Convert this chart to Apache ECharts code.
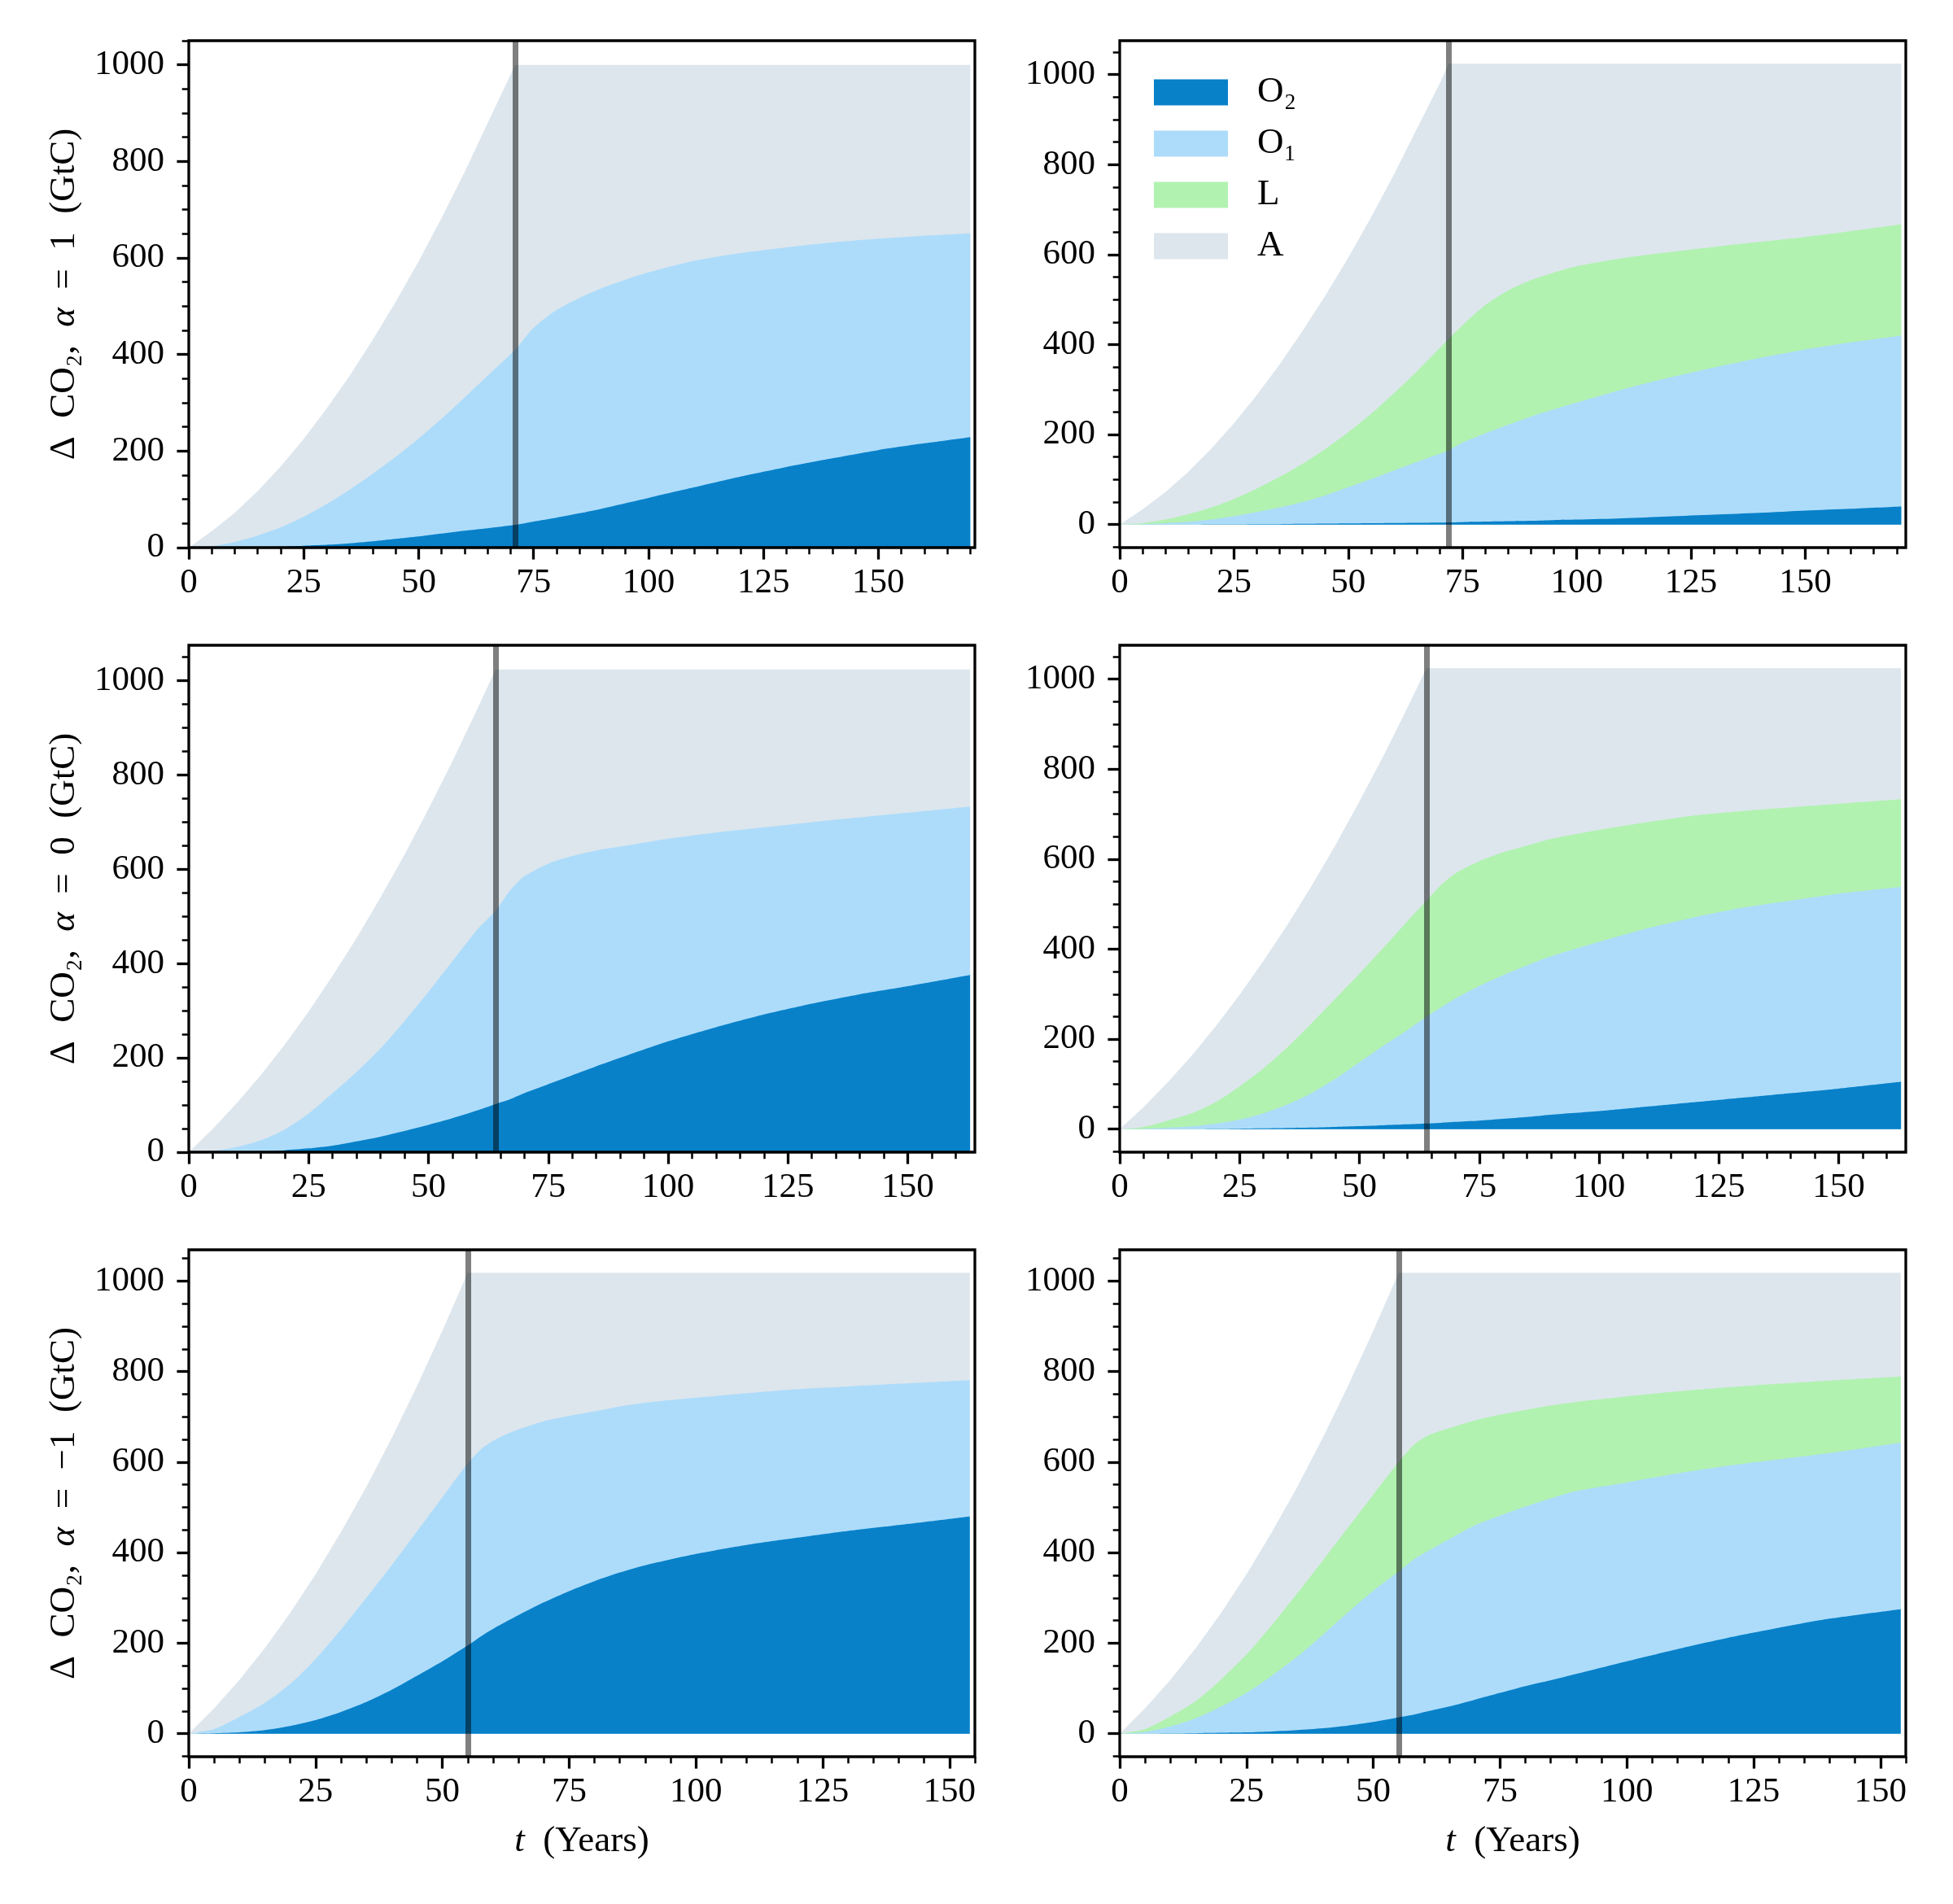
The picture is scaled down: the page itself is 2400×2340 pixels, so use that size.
<!DOCTYPE html>
<html>
<head>
<meta charset="utf-8">
<script src="https://cdn.jsdelivr.net/npm/echarts@6/dist/echarts.min.js"></script>
<style>
  html, body { margin: 0; padding: 0; background: #fff; }
  #chart { width: 2400px; height: 2340px; }
</style>
</head>
<body>
<div id="chart"></div>
<script>
// panels: top-left, top-right, middle-left, middle-right, bottom-left, bottom-right
// every series is the upper edge of its band (cumulative GtC)

// top-left, alpha = 1
var tTL  = [0,5,10,15,20,25,30,35,40,45,50,55,60,65,71,75,80,85,90,95,100,110,120,130,140,150,160,170];
var aTL  = [0,34,72,117,168,225,288,356,430,509,593,683,778,879,1000,1000,1000,1000,1000,1000,1000,1000,1000,1000,1000,1000,1000,1000];
var o1TL = [0,3,12,25,42,64,90,120,153,188,226,267,311,356,410,455,492,517,538,555,570,594,610,622,632,640,646,651];
var o2TL = [0,0,0.5,1,2,4,6,9,13,18,23,29,35,40,47,54,62,71,81,92,103,125,147,167,185,202,216,229];

// top-right
var tTR  = [0,5,10,15,20,25,30,35,40,45,50,55,60,65,70,72,75,80,85,90,95,100,110,120,130,140,150,160,171];
var aTR  = [0,34,72,117,168,225,288,356,430,509,593,683,778,879,980,1024,1024,1024,1024,1024,1024,1024,1024,1024,1024,1024,1024,1024,1024];
var lTR  = [0,3,11,23,38,57,80,106,135,168,205,246,292,340,392,413,443,488,520,543,560,574,592,605,617,628,639,652,667];
var o1TR = [0,1,3,6,11,19,28,38,50,65,83,101,120,139,157,165,182,203,222,240,256,271,300,326,349,370,389,405,420];
var o2TR = [0,0,0,0,0.5,0.5,1,1,1.5,2,2.5,3,3.5,4,4.5,5,5.5,6.5,7.5,8.5,10,11,14,18,22,26,31,35,40];

// middle-left, alpha = 0
var tML  = [0,5,10,15,20,25,30,35,40,45,50,55,60,64,67,70,75,80,85,90,100,110,120,130,140,150,163];
var aML  = [0,49,104,163,228,298,374,454,540,631,728,829,936,1024,1024,1024,1024,1024,1024,1024,1024,1024,1024,1024,1024,1024,1024];
var o1ML = [0,3,11,25,48,82,125,170,220,278,340,405,470,512,555,585,612,628,640,648,665,678,689,700,710,720,733];
var o2ML = [0,0,1,2,4,8,14,23,33,45,58,72,88,102,112,125,144,163,182,200,235,265,292,315,335,352,376];

// middle-right
var tMR  = [0,5,10,15,20,25,30,35,40,45,50,55,60,64,67,70,75,80,85,90,100,110,120,130,140,150,163];
var aMR  = [0,49,104,163,228,298,374,454,540,631,728,829,936,1024,1024,1024,1024,1024,1024,1024,1024,1024,1024,1024,1024,1024,1024];
var lMR  = [0,5,19,35,60,95,135,182,235,290,345,403,462,508,542,568,595,615,630,645,665,682,697,707,715,723,733];
var o1MR = [0,1,3,6,12,21,35,55,80,112,148,185,220,250,270,290,318,342,364,384,416,446,471,492,508,523,538];
var o2MR = [0,0,0,0,0.5,1,1.5,2.5,3.5,5,6.5,8.5,10.5,12.5,14,16,19,23,27,32,40,50,60,70,80,90,105];

// bottom-left, alpha = -1
var tBL  = [0,5,10,15,20,25,30,35,40,45,50,55,58,61,65,70,75,80,85,90,100,110,120,130,140,154];
var aBL  = [0,56,119,189,267,352,445,545,653,768,890,1018,1018,1018,1018,1018,1018,1018,1018,1018,1018,1018,1018,1018,1018,1018];
var o1BL = [0,10,37,68,110,165,230,300,372,447,522,597,632,653,672,690,702,712,723,731,742,752,761,767,773,781];
var o2BL = [0,1,3,8,17,30,48,70,97,128,160,195,218,238,262,290,315,337,356,372,397,417,433,448,461,480];

// bottom-right
var tBR  = [0,5,10,15,20,25,30,35,40,45,50,55,58,61,65,70,75,80,85,90,100,110,120,130,140,154];
var aBR  = [0,56,119,189,267,352,445,545,653,768,890,1018,1018,1018,1018,1018,1018,1018,1018,1018,1018,1018,1018,1018,1018,1018];
var lBR  = [0,10,38,72,120,175,240,310,382,455,528,600,638,660,675,692,705,715,725,733,745,756,765,773,780,789];
var o1BR = [0,4,16,34,60,90,128,170,218,268,316,358,385,405,430,460,482,502,520,536,555,575,592,606,620,643];
var o2BR = [0,0,0.5,1,2,3,5,8,12,18,26,36,42,50,60,75,90,105,118,132,160,187,212,234,254,275];

// year emissions stop (vertical line) and axis limits
var stopT = [71, 72, 64, 64, 55, 55];
var xMax  = [171, 172, 164, 164, 155, 155];
var yMin  = [0, -51.2, 0, -51.2, -50.9, -50.9];
var yMax  = [1050, 1075.2, 1075.2, 1075.2, 1068.9, 1068.9];

// tick labels
var xMajor = [0, 25, 50, 75, 100, 125, 150];
var xMinor = [0,5,10,15,20,25,30,35,40,45,50,55,60,65,70,75,80,85,90,95,100,105,110,115,120,125,130,135,140,145,150,155,160,165,170];
var yMajor = [0, 200, 400, 600, 800, 1000];
var yMinor = [-50,0,50,100,150,200,250,300,350,400,450,500,550,600,650,700,750,800,850,900,950,1000,1050];
var alphaText = ['1', '0', '\u22121'];

var panels = [
  {t: tTL, a: aTL, l: null, o1: o1TL, o2: o2TL},
  {t: tTR, a: aTR, l: lTR,  o1: o1TR, o2: o2TR},
  {t: tML, a: aML, l: null, o1: o1ML, o2: o2ML},
  {t: tMR, a: aMR, l: lMR,  o1: o1MR, o2: o2MR},
  {t: tBL, a: aBL, l: null, o1: o1BL, o2: o2BL},
  {t: tBR, a: aBR, l: lBR,  o1: o1BR, o2: o2BR}
];

var FONT = "'Liberation Serif', 'DejaVu Serif', serif";
var colA = '#dde6ed', colL = '#b1f2b0', colO1 = '#addcfa', colO2 = '#0881c9';
var gridLeft = [232, 1376];
var gridTop = [50, 793, 1536];

function pairs(t, v) {
  return t.map(function (x, k) { return [x, v[k]]; });
}

function inside(list, lo, hi) {
  return list.filter(function (v) { return v >= lo && v <= hi; });
}

function plain(v) { return String(v); }

var richText = {
  r: {fontFamily: FONT, fontSize: 45, color: '#000'},
  i: {fontFamily: FONT, fontSize: 45, color: '#000', fontStyle: 'italic'}
};

var grids = [], xAxes = [], yAxes = [], series = [];

for (var i = 0; i < 6; i++) {
  var col = i % 2, row = Math.floor(i / 2);
  var p = panels[i];

  grids.push({
    left: gridLeft[col], top: gridTop[row], width: 966, height: 623,
    show: true, borderColor: '#000', borderWidth: 3.3,
    backgroundColor: 'transparent', z: 10, outerBoundsMode: 'none'
  });

  // major x axis with labels
  xAxes.push({
    type: 'value', gridIndex: i, position: 'bottom', min: 0, max: xMax[i], z: 11,
    axisLine: {show: false, onZero: false},
    splitLine: {show: false},
    axisTick: {show: true, customValues: xMajor, length: 14.6, lineStyle: {color: '#000', width: 3.3}},
    axisLabel: {show: true, customValues: xMajor, showMinLabel: true, showMaxLabel: true, formatter: plain,
                margin: 22, fontSize: 43, fontFamily: FONT, color: '#000'},
    name: row === 2 ? '{i|t}{r|  (Years)}' : '',
    nameLocation: 'middle', nameGap: 82,
    nameTextStyle: {fontFamily: FONT, fontSize: 45, color: '#000', rich: richText}
  });
  // minor x ticks
  xAxes.push({
    type: 'value', gridIndex: i, position: 'bottom', min: 0, max: xMax[i], z: 11,
    axisLine: {show: false, onZero: false},
    splitLine: {show: false},
    axisTick: {show: true, customValues: inside(xMinor, 0, xMax[i]), length: 8.3, lineStyle: {color: '#000', width: 2.5}},
    axisLabel: {show: false}
  });

  // major y axis with labels
  yAxes.push({
    type: 'value', gridIndex: i, position: 'left', min: yMin[i], max: yMax[i], z: 11,
    axisLine: {show: false, onZero: false},
    splitLine: {show: false},
    axisTick: {show: true, customValues: yMajor, length: 14.6, lineStyle: {color: '#000', width: 3.3}},
    axisLabel: {show: true, customValues: yMajor, showMinLabel: true, showMaxLabel: true, formatter: plain,
                margin: 30, fontSize: 43, fontFamily: FONT, color: '#000'},
    name: col === 0 ? '{r|\u0394  CO\u2082,  }{i|\u03b1}{r|  =  ' + alphaText[row] + '  (GtC)}' : '',
    nameLocation: 'middle', nameGap: 130,
    nameTextStyle: {fontFamily: FONT, fontSize: 45, color: '#000', rich: richText}
  });
  // minor y ticks
  yAxes.push({
    type: 'value', gridIndex: i, position: 'left', min: yMin[i], max: yMax[i], z: 11,
    axisLine: {show: false, onZero: false},
    splitLine: {show: false},
    axisTick: {show: true, customValues: inside(yMinor, yMin[i], yMax[i]), length: 8.3, lineStyle: {color: '#000', width: 2.5}},
    axisLabel: {show: false}
  });

  var layers = [['A', p.a, colA, false]];
  if (p.l) layers.push(['L', p.l, colL, 0.25]);
  layers.push(['O\u2081', p.o1, colO1, 0.25]);
  layers.push(['O\u2082', p.o2, colO2, 0.25]);

  layers.forEach(function (ly, k) {
    var s = {
      type: 'line', name: ly[0], xAxisIndex: 2 * i, yAxisIndex: 2 * i,
      data: pairs(p.t, ly[1]),
      color: ly[2], itemStyle: {color: ly[2]},
      showSymbol: false, symbol: 'none',
      smooth: ly[3],
      lineStyle: {width: 0, opacity: 0},
      areaStyle: {color: ly[2], opacity: 1},
      silent: true, animation: false
    };
    if (k === layers.length - 1) {
      s.markLine = {
        silent: true, symbol: ['none', 'none'], animation: false,
        label: {show: false},
        lineStyle: {color: 'rgba(0,0,0,0.5)', width: 7, type: 'solid'},
        data: [{xAxis: stopT[i]}]
      };
    }
    series.push(s);
  });
}

var chart = echarts.init(document.getElementById('chart'), null, {renderer: 'canvas'});
chart.setOption({
  backgroundColor: '#fff',
  animation: false,
  grid: grids,
  xAxis: xAxes,
  yAxis: yAxes,
  legend: {
    data: ['O\u2082', 'O\u2081', 'L', 'A'],
    orient: 'vertical', left: 1418, top: 91, padding: 0,
    itemWidth: 91, itemHeight: 32, itemGap: 18, icon: 'rect',
    selectedMode: false,
    itemStyle: {borderWidth: 0},
    textStyle: {fontFamily: FONT, fontSize: 45, color: '#000', lineHeight: 32, padding: [0, 0, 0, 31]}
  },
  series: series
});
</script>
</body>
</html>
